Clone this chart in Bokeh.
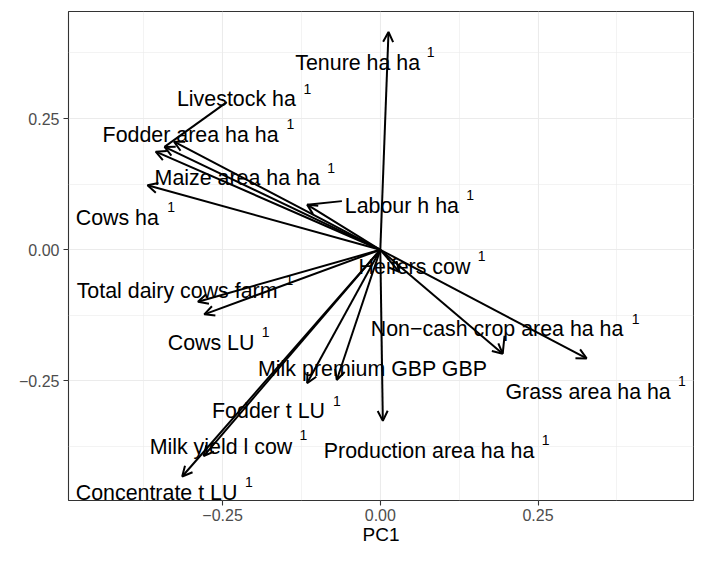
from bokeh.plotting import figure
from bokeh.models import ColumnDataSource, Arrow, OpenHead, FixedTicker, Range1d
from bokeh.core.properties import value
from bokeh.embed import file_html
from bokeh.resources import INLINE

# ---- data: PCA loadings (PC1, PC2) ----
variables = [
    "Tenure ha ha", "Livestock ha", "Fodder area ha ha", "Maize area ha ha",
    "Cows ha", "Labour h ha", "Heifers cow", "Total dairy cows farm",
    "Cows LU", "Milk premium GBP GBP", "Fodder t LU", "Milk yield l cow",
    "Concentrate t LU", "Production area ha ha", "Non\u2212cash crop area ha ha",
    "Grass area ha ha",
]
pc1 = [0.013, -0.342, -0.327, -0.356, -0.369, -0.116, 0.030, -0.289,
       -0.279, -0.069, -0.116, -0.280, -0.314, 0.004, 0.194, 0.327]
pc2 = [0.415, 0.196, 0.206, 0.187, 0.123, 0.086, -0.042, -0.099,
       -0.123, -0.248, -0.254, -0.393, -0.432, -0.326, -0.198, -0.207]
superscripts = ["1", "1", "1", "1", "1", "1", "1", "1",
                "1", "", "1", "1", "1", "1", "1", "1"]

# ---- label placement (repelled text, data units) ----
label_x = [-0.1348, -0.3223, -0.4402, -0.3578, -0.4828, -0.0563, -0.0344, -0.4813,
           -0.3370, -0.1938, -0.2667, -0.3656, -0.4828, -0.0895, -0.0152, 0.1984]
label_y = [0.3553, 0.2865, 0.2189, 0.1364, 0.0614, 0.0839, -0.0325, -0.0794,
           -0.1775, -0.2263, -0.3077, -0.3752, -0.4640, -0.3827, -0.1501, -0.2713]
sup_x = [0.0797, -0.1156, -0.1427, -0.0781, -0.3317, 0.1422, 0.1605, -0.1442,
         -0.1817, 0.0, -0.0688, -0.1219, -0.2083, 0.2620, 0.4047, 0.4781]
sup_y = [0.3765, 0.3071, 0.2396, 0.1552, 0.0820, 0.1045, -0.0118, -0.0568,
         -0.1563, 0.0, -0.2876, -0.3533, -0.4433, -0.3627, -0.1319, -0.2501]
# connector segments from repelled labels to arrow tips
seg_idx = [1, 5, 14]
seg_x0 = [-0.2433, -0.0609, 0.1969]
seg_y0 = [0.2814, 0.0927, -0.1638]

x_ticks = [-0.25, 0.0, 0.25]
y_ticks = [-0.25, 0.0, 0.25]
minor_ticks = [-0.375, -0.125, 0.125, 0.375]
tick_labels = {-0.25: "\u22120.25", 0: "0.00", 0.25: "0.25"}

FONT = "Liberation Sans"

p = figure(width=694, height=547, output_backend="svg", toolbar_location=None,
           x_range=Range1d(-0.4942, 0.4964), y_range=Range1d(-0.4777, 0.454),
           min_border_left=68, min_border_right=1, min_border_top=11,
           min_border_bottom=44)
p.background_fill_color = "white"
p.border_fill_color = "white"
p.outline_line_color = "#333333"
p.outline_line_width = 1.1

for ax, ticks in ((p.xaxis, x_ticks), (p.yaxis, y_ticks)):
    ax.ticker = FixedTicker(ticks=ticks, minor_ticks=minor_ticks)
    ax.major_label_overrides = tick_labels
    ax.axis_line_color = None
    ax.major_tick_line_color = "#333333"
    ax.major_tick_line_width = 1.1
    ax.major_tick_in = 0
    ax.major_tick_out = 5
    ax.minor_tick_line_color = None
    ax.major_label_text_color = "#4D4D4D"
    ax.major_label_text_font = FONT
    ax.major_label_text_font_size = "16px"

p.xaxis.major_label_standoff = 3
p.yaxis.major_label_standoff = 4
p.xaxis.axis_label = "PC1"
p.xaxis.axis_label_text_font = FONT
p.xaxis.axis_label_text_font_size = "19px"
p.xaxis.axis_label_text_font_style = "normal"
p.xaxis.axis_label_text_color = "black"
p.xaxis.axis_label_standoff = 0

for g, ticks in ((p.xgrid, x_ticks), (p.ygrid, y_ticks)):
    g.ticker = FixedTicker(ticks=ticks, minor_ticks=minor_ticks)
    g.grid_line_color = "#EBEBEB"
    g.grid_line_width = 1.1
    g.minor_grid_line_color = "#EBEBEB"
    g.minor_grid_line_width = 0.6

n = len(variables)
arrow_src = ColumnDataSource(dict(x0=[0.0] * n, y0=[0.0] * n, x1=pc1, y1=pc2))
p.add_layout(Arrow(end=OpenHead(size=10, line_width=2, line_color="black"),
                   x_start="x0", y_start="y0", x_end="x1", y_end="y1",
                   source=arrow_src, line_width=2, line_color="black"))

seg_src = ColumnDataSource(dict(x0=seg_x0, y0=seg_y0,
                                x1=[pc1[i] for i in seg_idx],
                                y1=[pc2[i] for i in seg_idx]))
p.segment(x0="x0", y0="y0", x1="x1", y1="y1", source=seg_src,
          line_color="black", line_width=2)

lab_src = ColumnDataSource(dict(x=label_x, y=label_y, text=variables))
p.text(x="x", y="y", text="text", source=lab_src, text_font=value(FONT),
       text_font_size="21.4px", text_color="black", text_align="left",
       text_baseline="alphabetic")

sx = [sup_x[i] for i in range(n) if superscripts[i]]
sy = [sup_y[i] for i in range(n) if superscripts[i]]
st = [s for s in superscripts if s]
sup_src = ColumnDataSource(dict(x=sx, y=sy, text=st))
p.text(x="x", y="y", text="text", source=sup_src, text_font=value(FONT),
       text_font_size="14px", text_color="black", text_align="center",
       text_baseline="alphabetic")

open("out.html", "w").write(file_html(p, INLINE))
